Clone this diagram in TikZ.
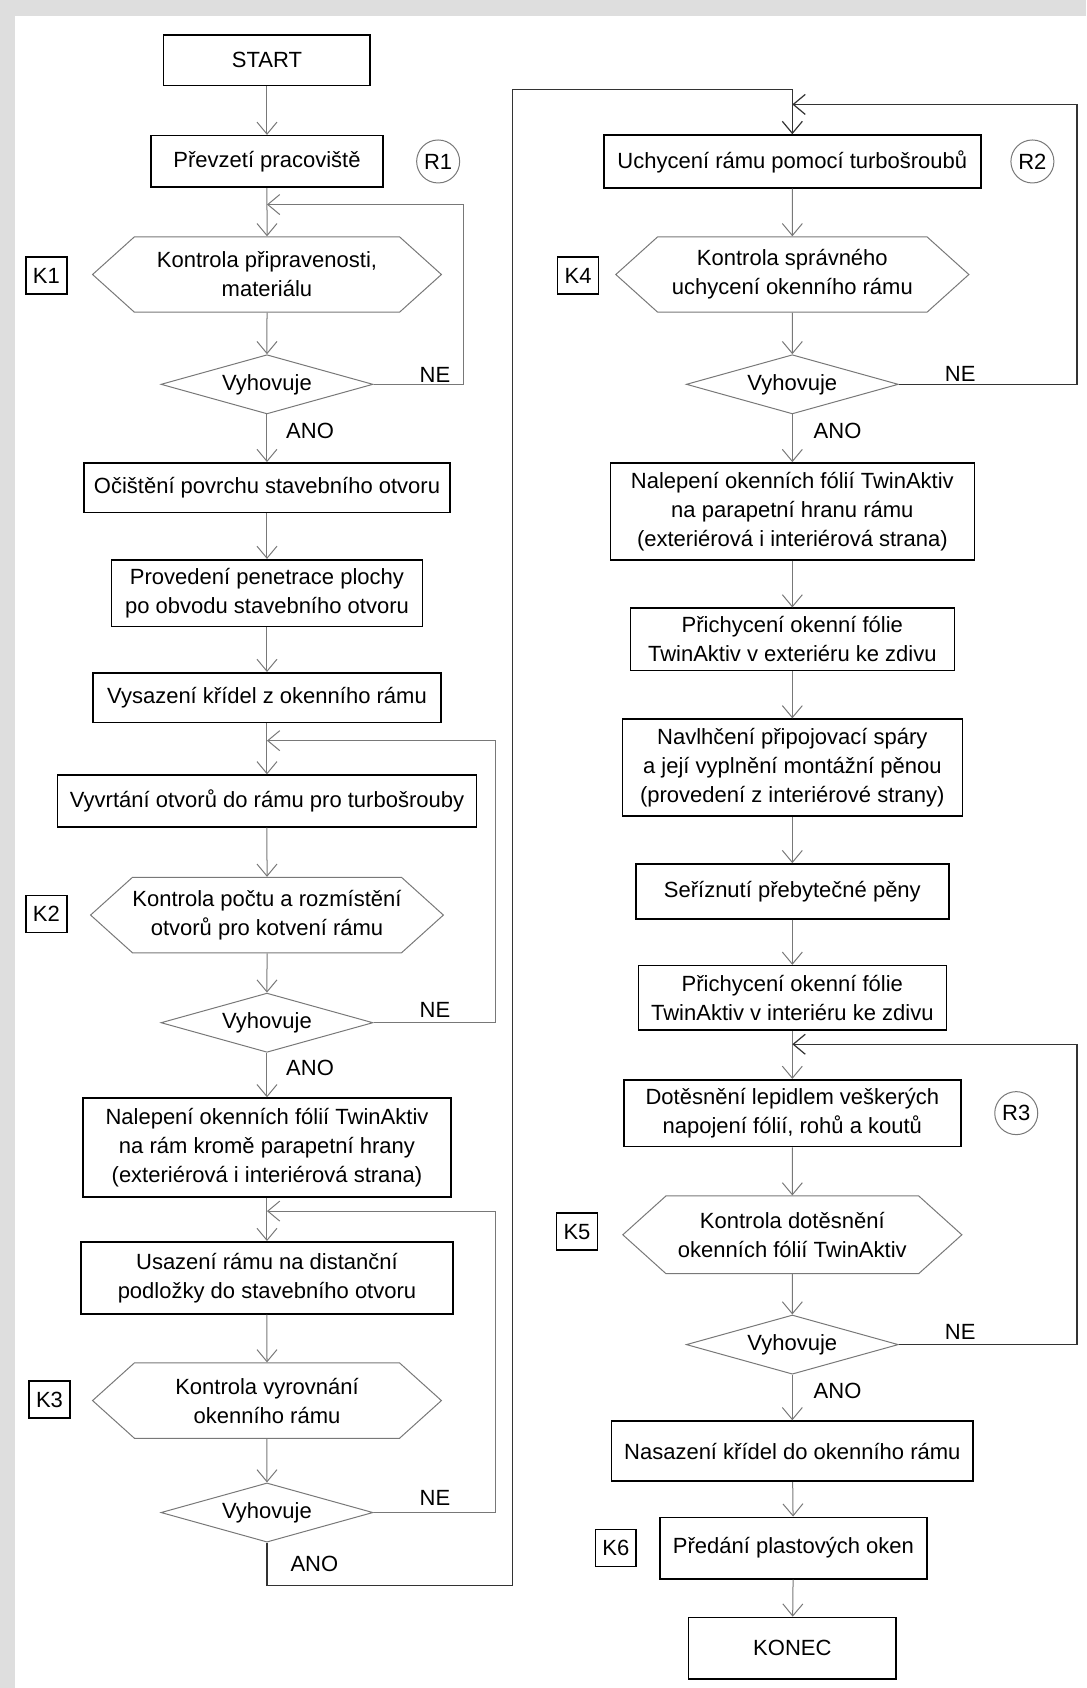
\documentclass[tikz,border=0pt]{standalone}
\usepackage{fontspec}
\setmainfont{Liberation Sans}
\usetikzlibrary{shapes.geometric, shapes.symbols, arrows.meta, positioning}
\definecolor{linegray}{RGB}{120,120,120}
\definecolor{shadowgray}{RGB}{222,222,222}

\begin{document}
\begin{tikzpicture}[x=0.5382pt, y=-0.5382pt,
  font=\fontsize{11}{14.5}\selectfont,
  >={Straight Barb[length=6pt,width=10pt]},
  stepbox/.style={rectangle, draw=black, line width=0.8pt, align=center, inner xsep=2pt, inner ysep=0pt},
  checkbox/.style={signal, signal to=west and east, signal pointer angle=84, draw=linegray, line width=0.5pt, align=center, inner sep=0pt, minimum width=174.4pt, minimum height=37.7pt},
  testbox/.style={diamond, aspect=3.6, draw=linegray, line width=0.5pt, inner sep=0pt, minimum width=106pt, minimum height=29.6pt},
  labelbox/.style={rectangle, draw=black, line width=0.8pt, inner xsep=3.5pt, inner ysep=2.5pt, minimum height=18.5pt},
  rolecircle/.style={circle, draw=linegray, line width=0.5pt, inner sep=0pt, minimum size=21.5pt},
  flow/.style={->, draw=linegray, line width=0.5pt},
  backflow/.style={->, draw=black!80, line width=0.6pt}
]
\useasboundingbox (0,0) rectangle (1009,1568);

% Page shadow
\fill[shadowgray] (0,0) rectangle (1009,15);
\fill[shadowgray] (0,0) rectangle (14,1568);

% Left column
\node[stepbox, minimum width=103.3pt, minimum height=25.3pt] (start) at (248,56) {START};
\node[stepbox, minimum width=115.7pt, minimum height=25.8pt] (prevzeti) at (248,150) {Převzetí pracoviště};
\node[rolecircle] (r1) at (407,150) {R1};
\node[checkbox] (kontrola1) at (248,255) {Kontrola připravenosti,\\materiálu};
\node[labelbox] (k1) at (43,256) {K1};
\node[testbox] (test1) at (248,357) {Vyhovuje};
\node[stepbox, minimum width=183pt, minimum height=24.8pt] (ocisteni) at (248,453) {Očištění povrchu stavebního otvoru};
\node[stepbox, minimum width=155.5pt, minimum height=33.4pt] (provedeni) at (248,551) {Provedení penetrace plochy\\po obvodu stavebního otvoru};
\node[stepbox, minimum width=173.8pt, minimum height=24.8pt] (vysazeni) at (248,648) {Vysazení křídel z okenního rámu};
\node[stepbox, minimum width=209.4pt, minimum height=25.8pt] (vyvrtani) at (248,744) {Vyvrtání otvorů do rámu pro turbošrouby};
\node[checkbox] (kontrola2) at (248,850) {Kontrola počtu a rozmístění\\otvorů pro kotvení rámu};
\node[labelbox] (k2) at (43,849) {K2};
\node[testbox] (test2) at (248,950) {Vyhovuje};
\node[stepbox, minimum width=184pt, minimum height=49.5pt] (nalepeni1) at (248,1066) {Nalepení okenních fólií TwinAktiv\\na rám kromě parapetní hrany\\(exteriérová i interiérová strana)};
\node[stepbox, minimum width=186.2pt, minimum height=36pt] (usazeni) at (248,1187) {Usazení rámu na distanční\\podložky do stavebního otvoru};
\node[checkbox] (kontrola3) at (248,1301) {Kontrola vyrovnání\\okenního rámu};
\node[labelbox] (k3) at (46,1300) {K3};
\node[testbox] (test3) at (248,1405) {Vyhovuje};

% Right column
\node[stepbox, minimum width=188.4pt, minimum height=26.4pt] (uchyceni) at (736,150) {Uchycení rámu pomocí turbošroubů};
\node[rolecircle] (r2) at (959,150) {R2};
\node[checkbox, minimum width=176.5pt] (kontrola4) at (736,255) {Kontrola správného\\uchycení okenního rámu};
\node[labelbox] (k4) at (537,256) {K4};
\node[testbox] (test4) at (736,357) {Vyhovuje};
\node[stepbox, minimum width=182pt, minimum height=48.4pt] (nalepeni2) at (736,475) {Nalepení okenních fólií TwinAktiv\\na parapetní hranu rámu\\(exteriérová i interiérová strana)};
\node[stepbox, minimum width=162pt, minimum height=31.2pt] (prichyceni1) at (736,594) {Přichycení okenní fólie\\TwinAktiv v exteriéru ke zdivu};
\node[stepbox, minimum width=170pt, minimum height=48.4pt] (navlhceni) at (736,713) {Navlhčení připojovací spáry\\a její vyplnění montážní pěnou\\(provedení z interiérové strany)};
\node[stepbox, minimum width=156.6pt, minimum height=27.4pt] (seriznuti) at (736,828) {Seříznutí přebytečné pěny};
\node[stepbox, minimum width=154pt, minimum height=32.3pt] (prichyceni2) at (736,927) {Přichycení okenní fólie\\TwinAktiv v interiéru ke zdivu};
\node[stepbox, minimum width=168.5pt, minimum height=33.4pt] (dotesneni) at (736,1034) {Dotěsnění lepidlem veškerých\\napojení fólií, rohů a koutů};
\node[rolecircle] (r3) at (944,1034) {R3};
\node[checkbox, minimum width=169.5pt, minimum height=38.8pt] (kontrola5) at (736,1147) {Kontrola dotěsnění\\okenních fólií TwinAktiv};
\node[labelbox] (k5) at (536,1144) {K5};
\node[testbox] (test5) at (736,1249) {Vyhovuje};
\node[stepbox, minimum width=180.8pt, minimum height=30.1pt] (nasazeni) at (736,1348) {Nasazení křídel do okenního rámu};
\node[stepbox, minimum width=133.5pt, minimum height=30.7pt] (predani) at (737,1438) {Předání plastových oken};
\node[labelbox] (k6) at (572,1438) {K6};
\node[stepbox, minimum width=103.9pt, minimum height=30.7pt] (konec) at (736,1531) {KONEC};

% Branch labels
\node (ano1) at (288,400) {ANO};
\node (ano2) at (288,992) {ANO};
\node (ano3) at (292,1453) {ANO};
\node (ano4) at (778,400) {ANO};
\node (ano5) at (778,1292) {ANO};
\node (ne1) at (404,348) {NE};
\node (ne2) at (404,938) {NE};
\node (ne3) at (404,1391) {NE};
\node (ne4) at (892,347) {NE};
\node (ne5) at (892,1237) {NE};

% Loop joins
\coordinate (join1) at (248,190);
\coordinate (join2) at (248,688);
\coordinate (join3) at (248,1125);
\coordinate (join4) at (736,97);
\coordinate (join5) at (736,970);
\coordinate (cross) at (476,83);

% Left flow
\draw[flow] (start) -- (prevzeti);
\draw[flow] (prevzeti) -- (kontrola1);
\draw[flow] (kontrola1) -- (test1);
\draw[flow] (test1) -- (ocisteni);
\draw[flow] (ocisteni) -- (provedeni);
\draw[flow] (provedeni) -- (vysazeni);
\draw[flow] (vysazeni) -- (vyvrtani);
\draw[flow] (vyvrtani) -- (kontrola2);
\draw[flow] (kontrola2) -- (test2);
\draw[flow] (test2) -- (nalepeni1);
\draw[flow] (nalepeni1) -- (usazeni);
\draw[flow] (usazeni) -- (kontrola3);
\draw[flow] (kontrola3) -- (test3);
\draw[flow] (test1.east) -- ++(84,0) |- (join1);
\draw[flow] (test2.east) -- ++(113.5,0) |- (join2);
\draw[flow] (test3.east) -- ++(113.5,0) |- (join3);

% Cross over to the right column
\draw[backflow] (test3.south) -- ++(0,40) -| (cross) -| (uchyceni.north);

% Right flow
\draw[flow] (uchyceni) -- (kontrola4);
\draw[flow] (kontrola4) -- (test4);
\draw[flow] (test4) -- (nalepeni2);
\draw[flow] (nalepeni2) -- (prichyceni1);
\draw[flow] (prichyceni1) -- (navlhceni);
\draw[flow] (navlhceni) -- (seriznuti);
\draw[flow] (seriznuti) -- (prichyceni2);
\draw[flow] (prichyceni2) -- (dotesneni);
\draw[flow] (dotesneni) -- (kontrola5);
\draw[flow] (kontrola5) -- (test5);
\draw[flow] (test5) -- (nasazeni);
\draw[flow] (nasazeni) -- (predani);
\draw[flow] (predani) -- (konec);
\draw[backflow] (test4.east) -- ++(165.5,0) |- (join4);
\draw[backflow] (test5.east) -- ++(165.5,0) |- (join5);
\end{tikzpicture}
\end{document}
